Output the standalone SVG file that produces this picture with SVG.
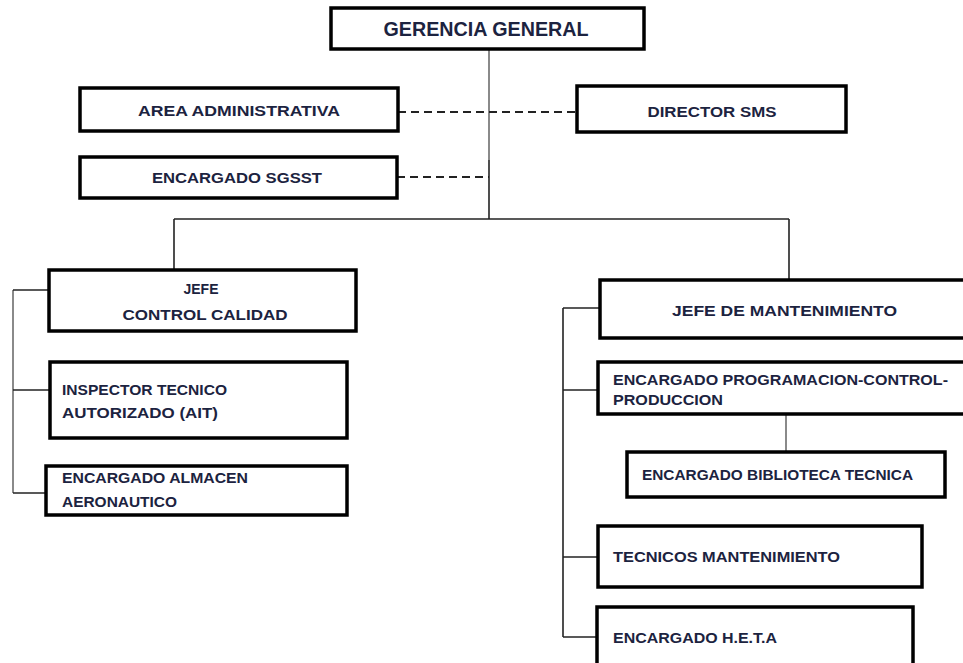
<svg xmlns="http://www.w3.org/2000/svg" width="963" height="663" viewBox="0 0 963 663">
  <style>
    .box { fill: #ffffff; stroke: #000000; stroke-width: 3.5; }
    .t { font-family: "Liberation Sans", Arial, sans-serif; font-weight: bold; fill: #1c2340; font-size: 15px; }
    .tc { text-anchor: middle; }
    .big { font-size: 20px; }
    .line { stroke: #222222; stroke-width: 1.6; fill: none; }
    .grey { stroke: #8a8a8a; stroke-width: 2; fill: none; }
    .dash { stroke: #222222; stroke-width: 1.8; stroke-dasharray: 8 5; fill: none; }
  </style>

  <!-- connectors -->
  <g id="connectors">
    <line class="grey" x1="489" y1="49" x2="489" y2="160"/>
    <line class="line" x1="489" y1="160" x2="489" y2="219"/>
    <line class="line" x1="174" y1="219" x2="789" y2="219"/>
    <line class="line" x1="174" y1="219" x2="174" y2="270"/>
    <line class="line" x1="789" y1="219" x2="789" y2="280"/>
    <line class="dash" x1="398" y1="112" x2="577" y2="112"/>
    <line class="dash" x1="397" y1="177" x2="489" y2="177"/>
    <!-- control calidad branch -->
    <line class="grey" x1="13" y1="290" x2="13" y2="493"/>
    <line class="line" x1="13" y1="290" x2="48" y2="290"/>
    <line class="line" x1="13" y1="390" x2="50" y2="390"/>
    <line class="line" x1="13" y1="493" x2="46" y2="493"/>
    <!-- mantenimiento branch -->
    <line class="line" x1="563" y1="308" x2="563" y2="637"/>
    <line class="line" x1="563" y1="308" x2="600" y2="308"/>
    <line class="line" x1="563" y1="390" x2="598" y2="390"/>
    <line class="line" x1="563" y1="557" x2="598" y2="557"/>
    <line class="line" x1="563" y1="637" x2="597" y2="637"/>
    <line class="grey" x1="786" y1="414" x2="786" y2="452"/>
  </g>

  <g id="gerencia-general">
    <rect class="box" x="331" y="8" width="313" height="41"/>
    <text class="t tc big" x="486" y="36" textLength="205" lengthAdjust="spacingAndGlyphs">GERENCIA GENERAL</text>
  </g>

  <g id="area-administrativa">
    <rect class="box" x="80" y="88" width="318" height="43"/>
    <text class="t tc" x="239" y="116" textLength="202" lengthAdjust="spacingAndGlyphs">AREA ADMINISTRATIVA</text>
  </g>

  <g id="director-sms">
    <rect class="box" x="577" y="86" width="269" height="46"/>
    <text class="t tc" x="712" y="117" textLength="129" lengthAdjust="spacingAndGlyphs">DIRECTOR SMS</text>
  </g>

  <g id="encargado-sgsst">
    <rect class="box" x="80" y="157" width="317" height="41"/>
    <text class="t tc" x="237" y="183" textLength="170" lengthAdjust="spacingAndGlyphs">ENCARGADO SGSST</text>
  </g>

  <g id="jefe-control-calidad">
    <rect class="box" x="49" y="270" width="307" height="61"/>
    <text class="t tc" x="201" y="294" textLength="35" lengthAdjust="spacingAndGlyphs">JEFE</text>
    <text class="t tc" x="205" y="320" textLength="165" lengthAdjust="spacingAndGlyphs">CONTROL CALIDAD</text>
  </g>

  <g id="inspector-tecnico">
    <rect class="box" x="50" y="362" width="297" height="76"/>
    <text class="t" x="62" y="395" textLength="165" lengthAdjust="spacingAndGlyphs">INSPECTOR TECNICO</text>
    <text class="t" x="62" y="418" textLength="156" lengthAdjust="spacingAndGlyphs">AUTORIZADO  (AIT)</text>
  </g>

  <g id="encargado-almacen">
    <rect class="box" x="46" y="466" width="301" height="49"/>
    <text class="t" x="62" y="483" textLength="186" lengthAdjust="spacingAndGlyphs">ENCARGADO ALMACEN</text>
    <text class="t" x="62" y="507" textLength="115" lengthAdjust="spacingAndGlyphs">AERONAUTICO</text>
  </g>

  <g id="jefe-mantenimiento">
    <rect class="box" x="600" y="280" width="380" height="58"/>
    <text class="t" x="672" y="316" textLength="225" lengthAdjust="spacingAndGlyphs">JEFE DE MANTENIMIENTO</text>
  </g>

  <g id="encargado-programacion">
    <rect class="box" x="598" y="362" width="380" height="52"/>
    <text class="t" x="613" y="385" textLength="335" lengthAdjust="spacingAndGlyphs">ENCARGADO PROGRAMACION-CONTROL-</text>
    <text class="t" x="613" y="405" textLength="110" lengthAdjust="spacingAndGlyphs">PRODUCCION</text>
  </g>

  <g id="encargado-biblioteca">
    <rect class="box" x="627" y="452" width="318" height="45"/>
    <text class="t" x="642" y="480" textLength="271" lengthAdjust="spacingAndGlyphs">ENCARGADO BIBLIOTECA TECNICA</text>
  </g>

  <g id="tecnicos-mantenimiento">
    <rect class="box" x="598" y="526" width="324" height="61"/>
    <text class="t" x="613" y="562" textLength="227" lengthAdjust="spacingAndGlyphs">TECNICOS MANTENIMIENTO</text>
  </g>

  <g id="encargado-heta">
    <rect class="box" x="597" y="607" width="316" height="62"/>
    <text class="t" x="613" y="643" textLength="164" lengthAdjust="spacingAndGlyphs">ENCARGADO H.E.T.A</text>
  </g>
</svg>
